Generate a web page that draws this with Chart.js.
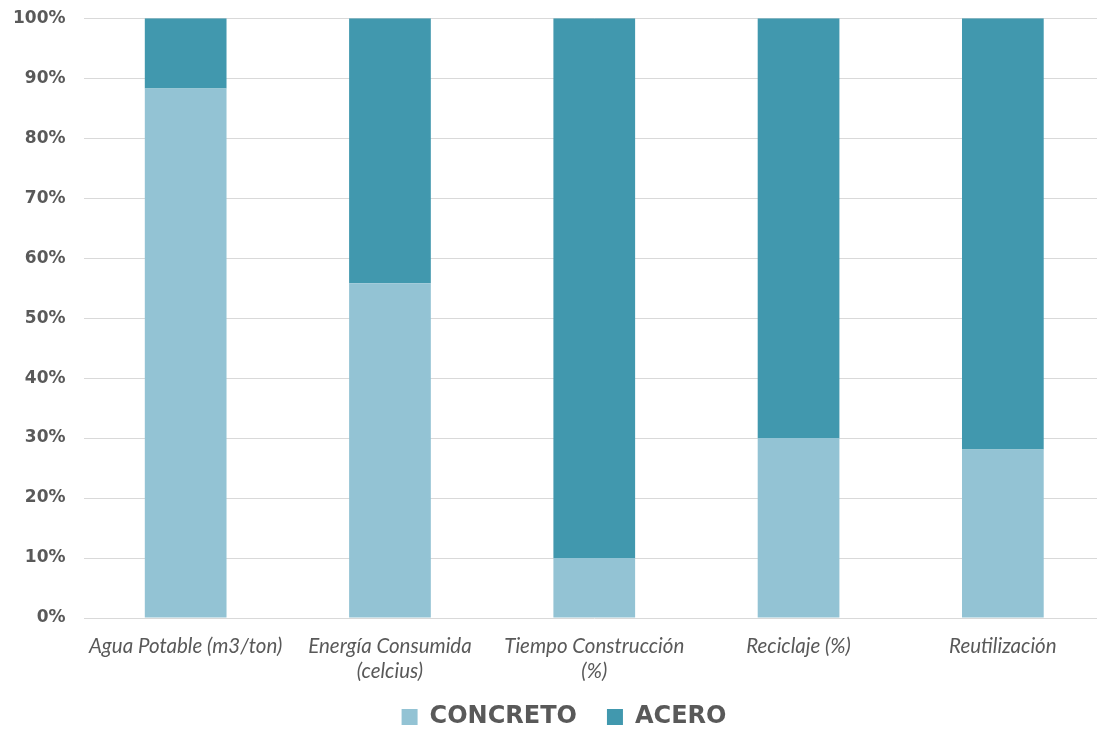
<!DOCTYPE html>
<html>
<head>
<meta charset="utf-8">
<script src="https://cdn.jsdelivr.net/npm/chart.js@4"></script>
<style>
  body { margin: 0; background: #fff; }
  #wrap { width: 1097px; height: 734px; overflow: hidden; position: relative; }
  #chart { position: absolute; left: 0; top: -10px; }
</style>
</head>
<body>
<div id="wrap"><canvas id="chart" width="1105" height="744"></canvas></div>
<script>
// categories (multi-line where the original wraps)
const categories = [
  'Agua Potable (m3/ton)',
  ['Energía Consumida', '(celcius)'],
  ['Tiempo Construcción', '(%)'],
  'Reciclaje (%)',
  'Reutilización'
];
const concreto = [88.3, 55.8, 10, 30, 28.1];
const acero = [11.7, 44.2, 90, 70, 71.9];
const yTicks = [0, 10, 20, 30, 40, 50, 60, 70, 80, 90, 100];

const gray = '#595959';

// nudge the legend a bit right, like the original
const legendShift = {
  id: 'legendShift',
  afterLayout: (chart) => {
    if (chart.legend) {
      chart.legend.left += 14;
      chart.legend.right += 14;
    }
  }
};

new Chart(document.getElementById('chart').getContext('2d'), {
  type: 'bar',
  data: {
    labels: categories,
    datasets: [
      { label: 'CONCRETO', data: concreto, backgroundColor: '#93C3D4', borderWidth: 0 },
      { label: 'ACERO', data: acero, backgroundColor: '#4198AE', borderWidth: 0 }
    ]
  },
  options: {
    responsive: false,
    animation: false,
    categoryPercentage: 1,
    barPercentage: 0.4,
    layout: { padding: { top: -14, right: 0, left: -5, bottom: -5 } },
    scales: {
      x: {
        stacked: true,
        grid: { display: false },
        border: { display: false },
        afterFit: (axis) => {
          axis.height = 57;
          // let the second label line run past the axis box instead of being clipped
          axis._computeLabelArea = () => undefined;
        },
        ticks: {
          color: gray,
          font: { family: 'Lato', style: 'italic', size: 20.5, lineHeight: 1.22 },
          maxRotation: 0,
          padding: 8
        }
      },
      y: {
        stacked: true,
        min: 0,
        max: 100,
        afterBuildTicks: (axis) => { axis.ticks = yTicks.map(v => ({ value: v })); },
        grid: { color: '#d9d9d9', lineWidth: 1, drawTicks: false },
        border: { display: false },
        ticks: {
          color: gray,
          padding: 18,
          font: { family: 'DejaVu Sans', weight: 'bold', size: 17 },
          callback: (v) => v + '%'
        }
      }
    },
    plugins: {
      tooltip: { enabled: false },
      legend: {
        position: 'bottom',
        labels: {
          color: gray,
          boxWidth: 16,
          boxHeight: 16,
          padding: 30,
          font: { family: 'DejaVu Sans', weight: 'bold', size: 24 }
        }
      }
    }
  },
  plugins: [legendShift]
});
</script>
</body>
</html>
